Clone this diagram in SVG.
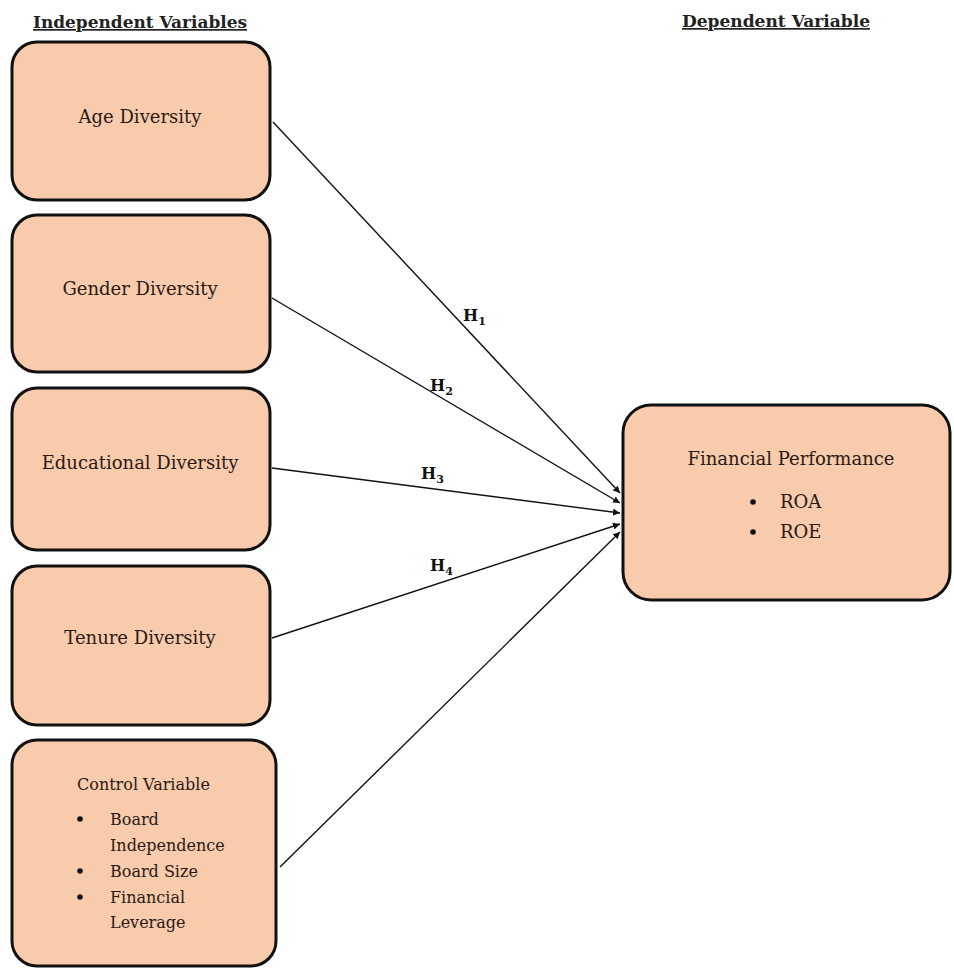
<svg xmlns="http://www.w3.org/2000/svg" width="954" height="969" viewBox="0 0 954 969">
<style>
.box{fill:#F8CBAD;stroke:#111;stroke-width:3}
.t{font-family:"DejaVu Serif","Liberation Serif",serif;font-size:18px;fill:#2a1a12}
.s{font-family:"DejaVu Serif","Liberation Serif",serif;font-size:16px;fill:#2a1a12}
.hd{font-family:"DejaVu Serif","Liberation Serif",serif;font-size:17px;font-weight:bold;fill:#222;text-decoration:underline}
.lbl{font-family:"DejaVu Serif","Liberation Serif",serif;font-size:16px;font-weight:bold;fill:#111}
.ln{stroke:#111;stroke-width:1.4;fill:none;marker-end:url(#ah)}
</style>
<defs>
<marker id="ah" viewBox="0 0 10 10" refX="10" refY="5" markerWidth="7" markerHeight="7" markerUnits="userSpaceOnUse" orient="auto">
<path d="M0,0 L10,5 L0,10 z" fill="#111"/>
</marker>
</defs>
<rect width="954" height="969" fill="#fff"/>
<text class="hd" x="140" y="28" text-anchor="middle" textLength="214" lengthAdjust="spacingAndGlyphs">Independent Variables</text>
<text class="hd" x="776" y="27" text-anchor="middle" textLength="188" lengthAdjust="spacingAndGlyphs">Dependent Variable</text>
<g id="connectors">
<line class="ln" x1="273" y1="122" x2="620" y2="493"/>
<line class="ln" x1="272" y1="298" x2="620" y2="503"/>
<line class="ln" x1="272" y1="468" x2="620" y2="513"/>
<line class="ln" x1="272" y1="638" x2="620" y2="524"/>
<line class="ln" x1="280" y1="867" x2="620" y2="532"/>
<text class="lbl" x="463" y="321">H<tspan font-size="11" dy="4">1</tspan></text>
<text class="lbl" x="430" y="391">H<tspan font-size="11" dy="4">2</tspan></text>
<text class="lbl" x="421" y="479">H<tspan font-size="11" dy="4">3</tspan></text>
<text class="lbl" x="430" y="571">H<tspan font-size="11" dy="4">4</tspan></text>
</g>
<g id="age">
<rect class="box" x="12" y="42" width="258" height="158" rx="25"/>
<text class="t" x="140" y="123" text-anchor="middle">Age Diversity</text>
</g>
<g id="gender">
<rect class="box" x="12" y="215" width="258" height="157" rx="25"/>
<text class="t" x="140" y="295" text-anchor="middle">Gender Diversity</text>
</g>
<g id="education">
<rect class="box" x="12" y="388" width="258" height="162" rx="25"/>
<text class="t" x="140" y="469" text-anchor="middle">Educational Diversity</text>
</g>
<g id="tenure">
<rect class="box" x="12" y="566" width="258" height="159" rx="25"/>
<text class="t" x="140" y="644" text-anchor="middle">Tenure Diversity</text>
</g>
<g id="control">
<rect class="box" x="12" y="740" width="264" height="226" rx="25"/>
<text class="s" x="77" y="790">Control Variable</text>
<circle cx="80" cy="819" r="2.8" fill="#111"/>
<text class="s" x="110" y="825">Board</text>
<text class="s" x="110" y="851">Independence</text>
<circle cx="80" cy="871" r="2.8" fill="#111"/>
<text class="s" x="110" y="877">Board Size</text>
<circle cx="80" cy="897" r="2.8" fill="#111"/>
<text class="s" x="110" y="903">Financial</text>
<text class="s" x="110" y="928">Leverage</text>
</g>
<g id="performance">
<rect class="box" x="623" y="405" width="327" height="195" rx="28"/>
<text class="t" x="791" y="465" text-anchor="middle">Financial Performance</text>
<circle cx="753" cy="502" r="2.8" fill="#111"/>
<text class="t" x="780" y="508">ROA</text>
<circle cx="753" cy="532" r="2.8" fill="#111"/>
<text class="t" x="780" y="538">ROE</text>
</g>
</svg>
